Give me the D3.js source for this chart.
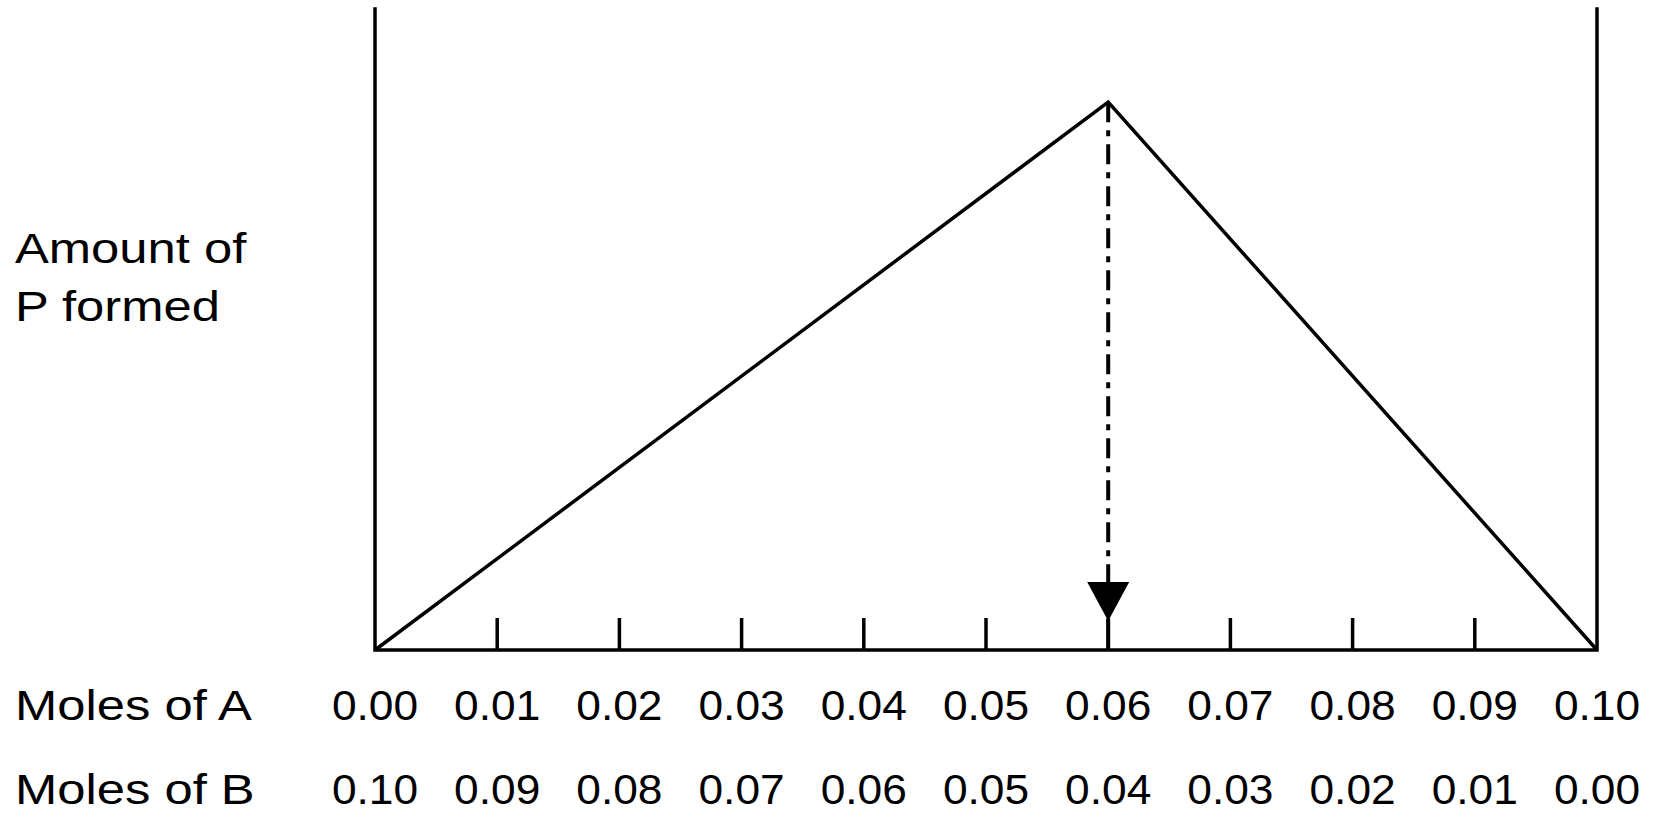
<!DOCTYPE html>
<html>
<head>
<meta charset="utf-8">
<script src="https://cdn.jsdelivr.net/npm/d3@7"></script>
<style>
  html, body { margin: 0; padding: 0; background: #fff; }
  svg { display: block; }
  text { font-family: "Liberation Sans", Arial, Helvetica, sans-serif; fill: #000; }
</style>
</head>
<body>
<div id="chart"></div>
<script>
// data
const molesA = [0.00, 0.01, 0.02, 0.03, 0.04, 0.05, 0.06, 0.07, 0.08, 0.09, 0.10]
const molesB = [0.10, 0.09, 0.08, 0.07, 0.06, 0.05, 0.04, 0.03, 0.02, 0.01, 0.00]
// amount of P formed (relative), at A = 0, 0.06, 0.10
const curveA = [0.00, 0.06, 0.10]
const curveP = [0.00, 1.00, 0.00]
const pMax = 1.17 // top of the vertical axes
const equivalence = 0.06

const width = 1654
const height = 820
const margin = { left: 375, right: 57, top: 9, bottom: 170 }

const svg = d3.select('#chart').append('svg')
  .attr('width', width)
  .attr('height', height)

const x = d3.scaleLinear().domain([0, 0.10]).range([margin.left, width - margin.right])
const y = d3.scaleLinear().domain([0, pMax]).range([height - margin.bottom, margin.top])

const g = svg.append('g')
const sw = 3.5

// frame: two verticals and the baseline
g.append('path')
  .attr('d', `M${x(0)},${y(pMax)}V${y(0)}H${x(0.10)}V${y(pMax)}`)
  .attr('fill', 'none')
  .attr('stroke', '#000')
  .attr('stroke-width', sw)
  .attr('stroke-linecap', 'square')

// inner ticks pointing up
g.append('g')
  .selectAll('line')
  .data(molesA.slice(1, -1))
  .enter()
  .append('line')
  .attr('x1', d => x(d))
  .attr('x2', d => x(d))
  .attr('y1', y(0))
  .attr('y2', y(0) - 32)
  .attr('stroke', '#000')
  .attr('stroke-width', sw)

// triangle
const line = d3.line()
  .x((d, i) => x(curveA[i]))
  .y(d => y(d))

g.append('path')
  .attr('d', line(curveP))
  .attr('fill', 'none')
  .attr('stroke', '#000')
  .attr('stroke-width', sw)
  .attr('stroke-linejoin', 'miter')

// dash-dot drop line with arrow head at the equivalence point
const peak = y(d3.max(curveP))
const xe = x(equivalence)
const headTop = y(0) - 68
const headTip = y(0) - 29
g.append('line')
  .attr('x1', xe).attr('x2', xe)
  .attr('y1', peak).attr('y2', headTop)
  .attr('stroke', '#000')
  .attr('stroke-width', 4)
  .attr('stroke-dasharray', '20 8 6 8')
g.append('path')
  .attr('d', `M${xe - 21},${headTop}H${xe + 21}L${xe},${headTip}Z`)
  .attr('fill', '#000')
g.append('line')
  .attr('x1', xe).attr('x2', xe)
  .attr('y1', headTip - 2).attr('y2', y(0))
  .attr('stroke', '#000')
  .attr('stroke-width', 4)

// labels, slightly wide like the original lettering
const stretch = (sel, k) => sel.each(function () {
  const w = this.getComputedTextLength()
  d3.select(this).attr('textLength', w * k).attr('lengthAdjust', 'spacingAndGlyphs')
})

const rowA = 720
const rowB = 804
const fontSize = 43

g.append('g')
  .selectAll('text')
  .data(molesA)
  .enter()
  .append('text')
  .attr('x', d => x(d))
  .attr('y', rowA)
  .attr('text-anchor', 'middle')
  .attr('font-size', fontSize)
  .text(d => d.toFixed(2))
  .call(stretch, 1.03)

g.append('g')
  .selectAll('text')
  .data(molesB)
  .enter()
  .append('text')
  .attr('x', (d, i) => x(molesA[i]))
  .attr('y', rowB)
  .attr('text-anchor', 'middle')
  .attr('font-size', fontSize)
  .text(d => d.toFixed(2))
  .call(stretch, 1.03)

const labels = [
  { text: 'Amount of', y: 263 },
  { text: 'P formed', y: 321 },
  { text: 'Moles of A', y: rowA },
  { text: 'Moles of B', y: rowB }
]
g.append('g')
  .selectAll('text')
  .data(labels)
  .enter()
  .append('text')
  .attr('x', 15)
  .attr('y', d => d.y)
  .attr('font-size', fontSize)
  .text(d => d.text)
  .call(stretch, 1.18)
</script>
</body>
</html>
